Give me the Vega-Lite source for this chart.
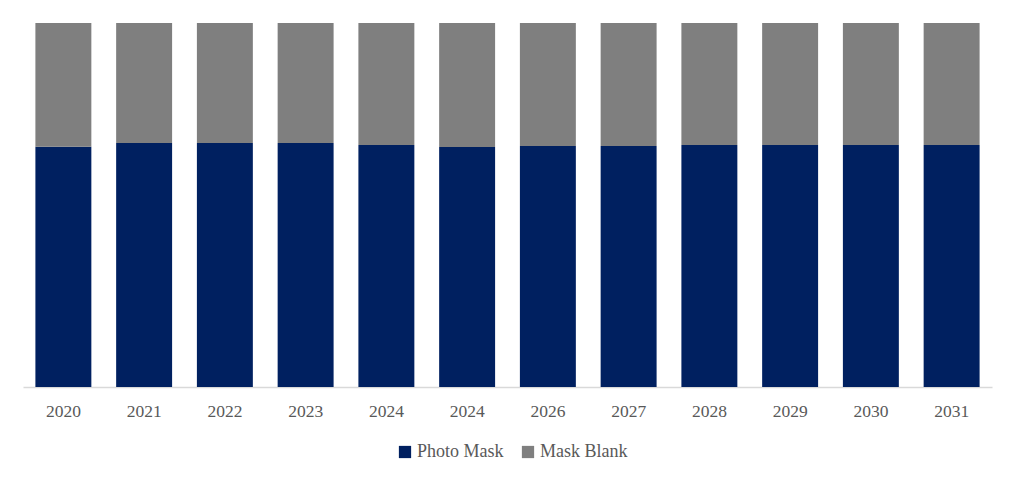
{
  "$schema": "https://vega.github.io/schema/vega-lite/v6.json",
  "width": 969,
  "height": 364,
  "padding": {"left": 23, "top": 23, "right": 23, "bottom": 5},
  "autosize": {"type": "pad"},
  "background": "white",
  "config": {"view": {"stroke": null}},
  "data": {
    "values": [
      {"pos": "2020", "series": "Photo Mask", "share": 66.0},
      {"pos": "2020", "series": "Mask Blank", "share": 34.0},
      {"pos": "2021", "series": "Photo Mask", "share": 67.0},
      {"pos": "2021", "series": "Mask Blank", "share": 33.0},
      {"pos": "2022", "series": "Photo Mask", "share": 67.0},
      {"pos": "2022", "series": "Mask Blank", "share": 33.0},
      {"pos": "2023", "series": "Photo Mask", "share": 67.0},
      {"pos": "2023", "series": "Mask Blank", "share": 33.0},
      {"pos": "2024", "series": "Photo Mask", "share": 66.5},
      {"pos": "2024", "series": "Mask Blank", "share": 33.5},
      {"pos": "2024b", "series": "Photo Mask", "share": 65.9},
      {"pos": "2024b", "series": "Mask Blank", "share": 34.1},
      {"pos": "2026", "series": "Photo Mask", "share": 66.2},
      {"pos": "2026", "series": "Mask Blank", "share": 33.8},
      {"pos": "2027", "series": "Photo Mask", "share": 66.2},
      {"pos": "2027", "series": "Mask Blank", "share": 33.8},
      {"pos": "2028", "series": "Photo Mask", "share": 66.5},
      {"pos": "2028", "series": "Mask Blank", "share": 33.5},
      {"pos": "2029", "series": "Photo Mask", "share": 66.5},
      {"pos": "2029", "series": "Mask Blank", "share": 33.5},
      {"pos": "2030", "series": "Photo Mask", "share": 66.5},
      {"pos": "2030", "series": "Mask Blank", "share": 33.5},
      {"pos": "2031", "series": "Photo Mask", "share": 66.5},
      {"pos": "2031", "series": "Mask Blank", "share": 33.5}
    ]
  },
  "mark": {"type": "bar"},
  "encoding": {
    "x": {
      "field": "pos",
      "type": "ordinal",
      "sort": null,
      "scale": {"paddingInner": 0.307, "paddingOuter": 0.1535},
      "axis": {
        "title": null,
        "labelAngle": 0,
        "labelExpr": "replace(datum.label, 'b', '')",
        "labelFont": "Liberation Serif",
        "labelFontSize": 17.5,
        "labelColor": "#595959",
        "labelPadding": 15,
        "ticks": false,
        "domainColor": "#d9d9d9",
        "domainWidth": 1.5
      }
    },
    "y": {
      "field": "share",
      "type": "quantitative",
      "stack": "normalize",
      "axis": null
    },
    "color": {
      "field": "series",
      "type": "nominal",
      "scale": {"domain": ["Photo Mask", "Mask Blank"], "range": ["#002060", "#7f7f7f"]},
      "legend": {
        "title": null,
        "orient": "none",
        "legendX": 373,
        "legendY": 420,
        "direction": "horizontal",
        "symbolType": "square",
        "symbolSize": 150,
        "symbolStrokeWidth": 0,
        "labelFont": "Liberation Serif",
        "labelFontSize": 18,
        "labelColor": "#595959",
        "labelOffset": 3,
        "columnPadding": 15
      }
    },
    "order": {"field": "series", "sort": "descending"}
  }
}
